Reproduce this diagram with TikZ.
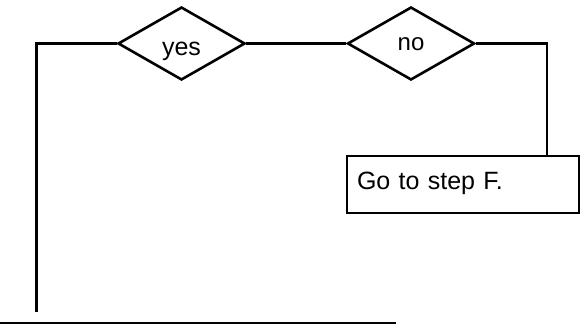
\documentclass[tikz,border=0pt]{standalone}
\usepackage{fontspec}
\setmainfont{Liberation Sans}
\usetikzlibrary{shapes.geometric}
\begin{document}
\begin{tikzpicture}[x=1pt,y=-1pt,
  line/.style={line width=2.6pt},
  choice/.style={diamond,draw,line width=2.6pt,aspect=1.74,minimum width=127pt,minimum height=73pt,inner sep=0pt,text depth=0pt},
  stepbox/.style={rectangle,draw,line width=2.6pt,minimum width=232pt,minimum height=57pt,inner xsep=10pt,inner ysep=0pt,text width=212pt,align=left,text height=13pt,text depth=4pt,font=\fontsize{25}{30}\selectfont}]
\useasboundingbox (0,0) rectangle (581,324);
\node[choice,text height=23pt,font=\fontsize{25}{30}\selectfont] (yes) at (181.5,43.5) {yes};
\node[choice,text height=13pt,font=\fontsize{24}{28}\selectfont] (no) at (411,43.5) {no};
\node[stepbox] (box) at (463,184.5) {Go to step F.};
\coordinate (lb) at (36.5,312);
\draw[line] (yes.west) -| (lb);
\draw[line] (yes.east) -- (no.west);
\draw[line] (no.east) -| ([xshift=84pt]box.north);
\coordinate (b1) at (0,323);
\coordinate (b2) at (396,323);
\draw[line width=2pt] (b1) -- (b2);
\end{tikzpicture}
\end{document}
